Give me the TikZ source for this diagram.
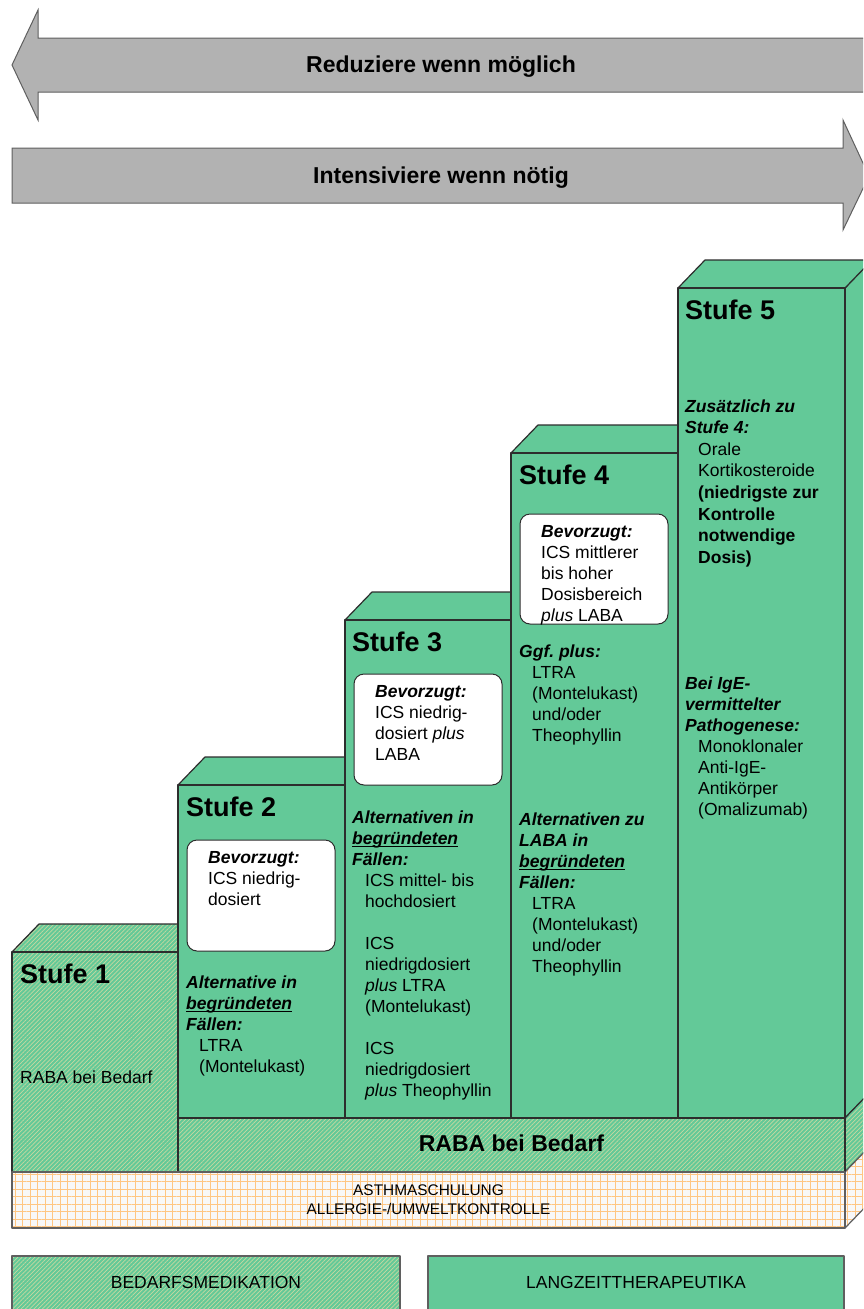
\documentclass[tikz,border=0pt]{standalone}
\usepackage{fontspec}
\setmainfont{Liberation Sans}
\usetikzlibrary{patterns.meta}

\definecolor{stepgreen}{RGB}{99,201,152}
\definecolor{stripe}{RGB}{200,216,160}
\definecolor{gridor}{RGB}{255,198,130}
\definecolor{gridbg}{RGB}{248,248,248}
\definecolor{arrowgray}{RGB}{178,178,178}
\definecolor{edge}{RGB}{45,45,45}
\definecolor{legedge}{RGB}{95,95,95}

\frenchspacing
\newcommand{\myul}[1]{\setbox0\hbox{#1}\rlap{\rule[-3pt]{\wd0}{1.3pt}}\box0}
\newcommand{\bi}[1]{\textbf{\textit{#1}}}
\newcommand{\ind}{\hspace*{13pt}}
\newcommand{\blk}[1]{\begin{tabular}[t]{@{}l@{}}#1\end{tabular}}
\newcommand{\cblk}[1]{\begin{tabular}[t]{@{}c@{}}#1\end{tabular}}

\tikzset{
  solidface/.style={fill=stepgreen, draw=edge, line width=1.2pt, line join=round},
  hatchface/.style={preaction={fill=stepgreen}, pattern={Lines[angle=45,distance=3pt,line width=0.7pt]}, pattern color=stripe, draw=edge, line width=1.2pt, line join=round},
  gridface/.style={preaction={fill=gridbg}, pattern={Hatch[angle=0,distance=7.5pt,line width=0.8pt]}, pattern color=gridor, draw=legedge, line width=1.2pt, line join=round},
  prefbox/.style={fill=white, draw=edge, line width=1pt, rounded corners=10pt},
  bigarrow/.style={fill=arrowgray, draw=legedge, line width=1pt, line join=miter},
  arrowtext/.style={anchor=base, inner sep=0pt, font=\fontsize{23}{27}\selectfont\bfseries},
  stufetitle/.style={anchor=base west, inner sep=0pt, font=\fontsize{27}{32}\selectfont\bfseries},
  body/.style={anchor=base west, inner sep=0pt, font=\fontsize{17.5}{21}\selectfont},
  bodyw/.style={anchor=base west, inner sep=0pt, font=\fontsize{17.5}{21.6}\selectfont},
  bandtext/.style={anchor=base, inner sep=0pt, font=\fontsize{23}{27}\selectfont\bfseries},
  smalltext/.style={anchor=base, inner sep=0pt, font=\fontsize{15.4}{19}\selectfont},
  legtext/.style={anchor=base, inner sep=0pt, font=\fontsize{17.5}{21}\selectfont},
}

\begin{document}
\begin{tikzpicture}[x=1pt,y=-1pt]
\useasboundingbox (0,0) rectangle (863,1309);
\begin{scope}
\clip (0,0) rectangle (863,1309);

% arrows
\draw[bigarrow] (12,65) -- (38,10) -- (38,38) -- (880,38) -- (880,92) -- (38,92) -- (38,120) -- cycle;
\draw[bigarrow] (12,148) -- (843,148) -- (843,120) -- (869,176) -- (843,230) -- (843,203) -- (12,203) -- cycle;

% right side faces
\draw[solidface] (845,288) -- (872,260) -- (872,1090) -- (845,1118) -- cycle;
\draw[hatchface] (845,1118) -- (872,1090) -- (872,1144) -- (845,1172) -- cycle;
\draw[gridface] (845,1172) -- (872,1144) -- (872,1200) -- (845,1228) -- cycle;

% top faces
\draw[hatchface] (12,952) -- (39,924) -- (205,924) -- (178,952) -- cycle;
\draw[solidface] (178,785) -- (205,757) -- (372,757) -- (345,785) -- cycle;
\draw[solidface] (345,620) -- (372,592) -- (538,592) -- (511,620) -- cycle;
\draw[solidface] (511,453) -- (538,425) -- (705,425) -- (678,453) -- cycle;
\draw[solidface] (678,288) -- (705,260) -- (872,260) -- (845,288) -- cycle;

% front faces
\draw[hatchface] (12,952) rectangle (178,1172);
\draw[solidface] (178,785) rectangle (345,1118);
\draw[solidface] (345,620) rectangle (511,1118);
\draw[solidface] (511,453) rectangle (678,1118);
\draw[solidface] (678,288) rectangle (845,1118);
\draw[hatchface] (178,1118) rectangle (845,1172);
\draw[gridface] (12,1172) rectangle (845,1228);

% preferred boxes
\draw[prefbox] (187,840) rectangle (335,951);
\draw[prefbox] (354,674) rectangle (502,785);
\draw[prefbox] (520,514) rectangle (668,624);

% legend boxes
\draw[hatchface, draw=legedge] (12,1256) rectangle (400,1330);
\draw[solidface, draw=legedge] (428,1256) rectangle (844,1330);
\end{scope}

% arrow texts
\node[arrowtext] (reduce) at (441,72) {Reduziere wenn möglich};
\node[arrowtext] (intens) at (441,183) {Intensiviere wenn nötig};

% Stufe 1
\node[stufetitle] (s1title) at (20,983) {Stufe 1};
\node[body] (s1text) at (20,1083) {RABA bei Bedarf};

% Stufe 2
\node[stufetitle] (s2title) at (186,816) {Stufe 2};
\node[body] (s2pref) at (208,863) {\blk{\bi{Bevorzugt:}\\ ICS niedrig-\\ dosiert}};
\node[body] (s2alt) at (186,988) {\blk{\bi{Alternative in}\\ \bi{\myul{begründeten}}\\ \bi{Fällen:}\\ \ind LTRA\\ \ind (Montelukast)}};

% Stufe 3
\node[stufetitle] (s3title) at (352,651) {Stufe 3};
\node[body] (s3pref) at (375,697) {\blk{\bi{Bevorzugt:}\\ ICS niedrig-\\ dosiert \textit{plus}\\ LABA}};
\node[body] (s3alt) at (352,823) {\blk{\bi{Alternativen in}\\ \bi{\myul{begründeten}}\\ \bi{Fällen:}\\ \ind ICS mittel- bis\\ \ind hochdosiert\\ \\ \ind ICS\\ \ind niedrigdosiert\\ \ind \textit{plus} LTRA\\ \ind (Montelukast)\\ \\ \ind ICS\\ \ind niedrigdosiert\\ \ind \textit{plus} Theophyllin}};

% Stufe 4
\node[stufetitle] (s4title) at (519,484) {Stufe 4};
\node[body] (s4pref) at (541,537) {\blk{\bi{Bevorzugt:}\\ ICS mittlerer\\ bis hoher\\ Dosisbereich\\ \textit{plus} LABA}};
\node[body] (s4ggf) at (519,657) {\blk{\bi{Ggf. plus:}\\ \ind LTRA\\ \ind (Montelukast)\\ \ind und/oder\\ \ind Theophyllin}};
\node[body] (s4alt) at (519,825) {\blk{\bi{Alternativen zu}\\ \bi{LABA in}\\ \bi{\myul{begründeten}}\\ \bi{Fällen:}\\ \ind LTRA\\ \ind (Montelukast)\\ \ind und/oder\\ \ind Theophyllin}};

% Stufe 5
\node[stufetitle] (s5title) at (685,319) {Stufe 5};
\node[bodyw] (s5add) at (685,412) {\blk{\bi{Zusätzlich zu}\\ \bi{Stufe 4:}\\ \ind Orale\\ \ind Kortikosteroide\\ \ind \textbf{(niedrigste zur}\\ \ind \textbf{Kontrolle}\\ \ind \textbf{notwendige}\\ \ind \textbf{Dosis)}}};
\node[body] (s5ige) at (685,689) {\blk{\bi{Bei IgE-}\\ \bi{vermittelter}\\ \bi{Pathogenese:}\\ \ind Monoklonaler\\ \ind Anti-IgE-\\ \ind Antikörper\\ \ind (Omalizumab)}};

% bands
\node[bandtext] (raba) at (511.5,1151) {RABA bei Bedarf};
\node[smalltext] (asthma) at (428.5,1195) {\cblk{ASTHMASCHULUNG\\ ALLERGIE-/UMWELTKONTROLLE}};

% legend
\node[legtext] (legbed) at (206,1288) {BEDARFSMEDIKATION};
\node[legtext] (leglang) at (636,1288) {LANGZEITTHERAPEUTIKA};
\end{tikzpicture}
\end{document}
